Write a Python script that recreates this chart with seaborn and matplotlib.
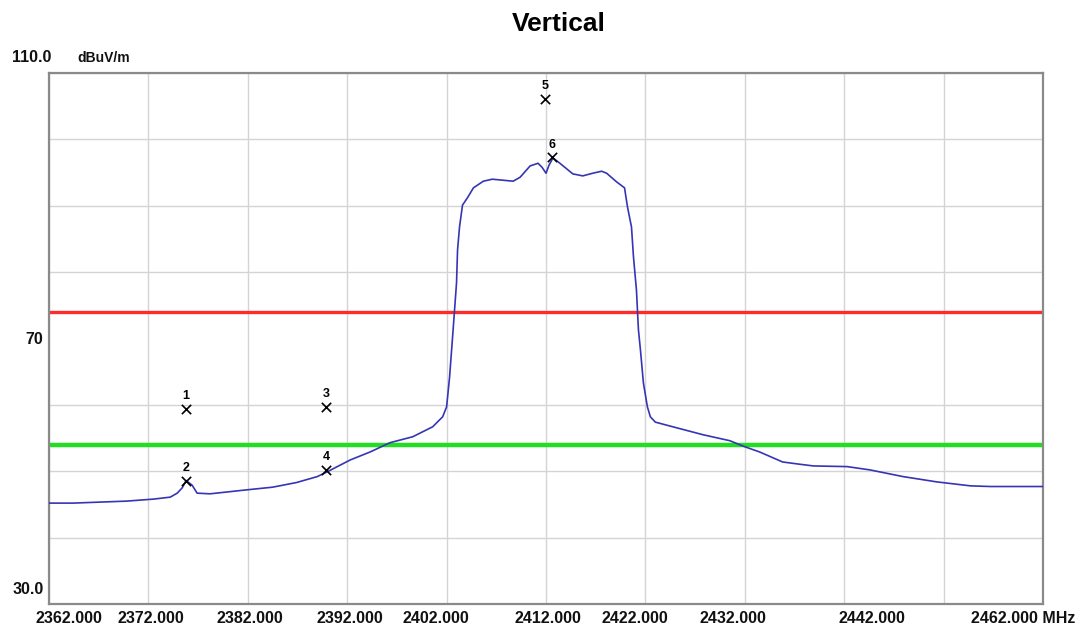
import pandas as pd
import matplotlib
matplotlib.use("Agg")
import matplotlib.pyplot as plt
import seaborn as sns

# trace (MHz, dBuV/m)
freq = [2362.0, 2364.4, 2369.8, 2372.5, 2374.2, 2374.9, 2375.4, 2375.8, 2376.4, 2376.9,
        2378.2, 2381.9, 2384.5, 2386.9, 2389.0, 2390.1, 2392.3, 2394.3, 2396.3, 2398.6,
        2400.6, 2401.6, 2402.0, 2402.3, 2402.6, 2402.8, 2403.0, 2403.1, 2403.3, 2403.6,
        2404.1, 2404.7, 2405.7, 2406.6, 2408.7, 2409.4, 2410.4, 2411.2, 2411.6, 2412.0,
        2412.3, 2412.7, 2413.4, 2414.7, 2415.7, 2416.7, 2417.6, 2418.1, 2419.1, 2419.9,
        2420.2, 2420.6, 2420.8, 2421.1, 2421.3, 2421.5, 2421.8, 2422.2, 2422.5, 2423.0,
        2424.5, 2427.8, 2430.5, 2431.8, 2433.5, 2435.8, 2437.3, 2438.9, 2442.3, 2444.6,
        2447.9, 2451.3, 2454.7, 2456.7, 2462.0]
level = [45.2, 45.2, 45.5, 45.8, 46.1, 46.7, 47.5, 48.6, 47.9, 46.7,
         46.6, 47.2, 47.6, 48.3, 49.2, 50.0, 51.7, 52.9, 54.3, 55.2,
         56.7, 58.2, 59.7, 64.2, 70.2, 74.3, 78.4, 83.3, 86.8, 90.1,
         91.2, 92.7, 93.7, 94.0, 93.7, 94.3, 96.0, 96.4, 95.8, 94.9,
         96.1, 97.2, 96.4, 94.8, 94.5, 94.9, 95.2, 94.9, 93.6, 92.7,
         89.8, 86.8, 82.3, 77.3, 71.3, 68.3, 63.3, 59.7, 58.2, 57.4,
         56.8, 55.5, 54.6, 53.8, 52.9, 51.4, 51.1, 50.8, 50.7, 50.2,
         49.2, 48.4, 47.8, 47.7, 47.7]

# markers
mk_no = ["1", "2", "3", "4", "5", "6"]
mk_freq = [2375.8, 2375.8, 2389.9, 2389.9, 2411.9, 2412.6]
mk_level = [59.4, 48.6, 59.7, 50.2, 106.1, 97.3]

# limit lines
peak_limit = 74
avg_limit = 54

# axis labels
xtick_pos = [2364.0, 2372.2, 2382.2, 2392.3, 2400.9, 2412.2, 2420.9, 2430.8, 2444.8, 2460.0]
xtick_lbl = ["2362.000", "2372.000", "2382.000", "2392.000", "2402.000", "2412.000",
             "2422.000", "2432.000", "2442.000", "2462.000 MHz"]

trace = pd.DataFrame({"freq": freq, "level": level})
marks = pd.DataFrame({"freq": mk_freq, "level": mk_level, "no": mk_no})

sns.set_style("white")
plt.rcParams["font.family"] = ["Liberation Sans", "DejaVu Sans"]

fig = plt.figure(figsize=(10.82, 6.29), dpi=100)
ax = fig.add_axes([49 / 1082, 1 - 604 / 629, (1043 - 49) / 1082, (604 - 73) / 629])

ax.axhline(peak_limit, color="#ff2a2a", lw=2.4, zorder=2)
ax.axhline(avg_limit, color="#22dd22", lw=3.2, zorder=2)
sns.lineplot(data=trace, x="freq", y="level", color="#3535b5", lw=1.2, ax=ax, zorder=3)
sns.scatterplot(data=marks, x="freq", y="level", marker="x", color="black", s=45,
                linewidth=1.2, ax=ax, zorder=4)
for _, r in marks.iterrows():
    ax.annotate(r["no"], (r["freq"], r["level"]), xytext=(0, 9), textcoords="offset points",
                ha="center", va="center", fontsize=9, fontweight="bold", color="black")

ax.set_xlim(2362, 2462)
ax.set_ylim(30, 110)

# grid on minor ticks, labels on major ticks
ax.set_xticks(range(2362, 2463, 10), minor=True)
ax.set_yticks(range(30, 111, 10), minor=True)
ax.grid(which="minor", color="#d4d4d4", lw=1)
ax.set_xticks(xtick_pos, xtick_lbl)
ax.set_yticks([32.4, 70], ["30.0", "70"])
ax.tick_params(which="both", length=0)
ax.tick_params(axis="x", pad=5, labelsize=11.5)
ax.tick_params(axis="y", pad=4, labelsize=11.5)
for lbl in ax.get_xticklabels() + ax.get_yticklabels():
    lbl.set_fontweight("bold")
    lbl.set_color("#111111")

for s in ax.spines.values():
    s.set_color("#8a8a8a")
    s.set_linewidth(1.6)

ax.set_xlabel("")
ax.set_ylabel("")

fig.text(12 / 1082, 1 - 58 / 629, "110.0", fontsize=11.5, fontweight="bold",
         va="center", ha="left", color="#111111")
fig.text(77 / 1082, 1 - 58 / 629, "dBuV/m", fontsize=10, fontweight="bold",
         va="center", ha="left", color="#111111")
fig.text(559 / 1082, 1 - 24 / 629, "Vertical", fontsize=19, fontweight="bold",
         va="center", ha="center", color="black")

fig.savefig("out.png", dpi=100)
